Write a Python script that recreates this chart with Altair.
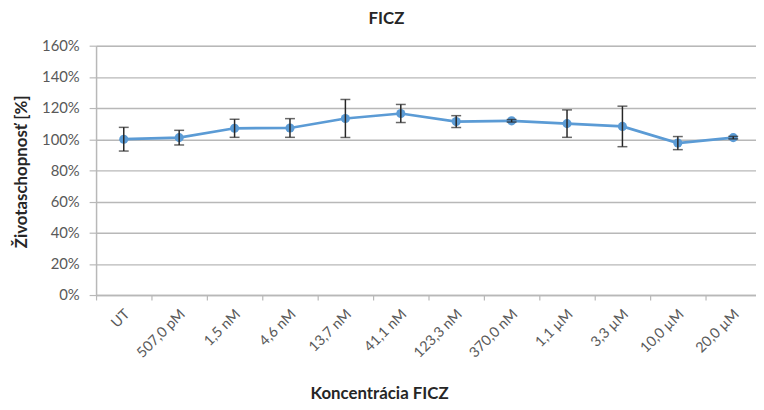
import altair as alt
import pandas as pd

categories = ["UT", "507,0 pM", "1,5 nM", "4,6 nM", "13,7 nM", "41,1 nM",
              "123,3 nM", "370,0 nM", "1,1 µM", "3,3 µM", "10,0 µM", "20,0 µM"]
values = [100.0, 101.0, 107.0, 107.2, 113.3, 116.5, 111.3, 111.8, 110.0, 108.2, 97.5, 101.0]
errors = [7.6, 4.7, 5.8, 6.0, 12.2, 5.8, 3.8, 0.8, 8.8, 13.0, 4.2, 0.8]
y_ticks = [0, 20, 40, 60, 80, 100, 120, 140, 160]

df = pd.DataFrame({"cat": categories, "val": values, "err": errors})

FONT = "Lato"
GRID = "#b8b8b8"
BLUE = "#5b9bd5"

x_enc = alt.X(
    "cat:N", sort=categories,
    scale=alt.Scale(paddingInner=0, paddingOuter=0, range=[0, 672]),
    axis=alt.Axis(
        title="Koncentrácia FICZ", bandPosition=0, labelOffset=-1,
        labelAngle=-45, labelAlign="right", labelBaseline="top",
        labelPadding=7, tickSize=5, tickColor=GRID, domainColor=GRID,
        domainWidth=1.5, tickWidth=1.2, grid=False, labelOverlap=False,
        labelFont=FONT, labelFontSize=14.5, labelColor="#595959",
        titleFont=FONT, titleFontSize=17, titleFontWeight="bold",
        titleColor="#262626", titleX=286, titleY=105,
        titleAlign="center", titleBaseline="alphabetic",
    ),
)

y_scale = alt.Scale(domain=[0, 160], nice=False, zero=True)
y_axis = alt.Axis(
    title="Životaschopnosť [%]", values=y_ticks,
    labelExpr="datum.value + '%'", labelOverlap=False,
    grid=True, gridColor=GRID, gridWidth=1.4,
    tickSize=7, tickColor=GRID, tickWidth=1.2,
    domainColor=GRID, domainWidth=1.5, labelPadding=10,
    labelFont=FONT, labelFontSize=15, labelColor="#595959",
    titleFont=FONT, titleFontSize=17, titleFontWeight="bold",
    titleColor="#262626", titleX=-75, titleY=127, titleAngle=270,
    titleAlign="center", titleBaseline="middle",
)


def yq(field):
    return alt.Y(field, type="quantitative", scale=y_scale, axis=y_axis, title="Životaschopnosť [%]")


base = alt.Chart(df).transform_calculate(
    lo="datum.val - datum.err", hi="datum.val + datum.err"
)

line = base.mark_line(color=BLUE, strokeWidth=2.7).encode(x=x_enc, y=yq("val"))
points = base.mark_point(shape="circle", filled=True, size=85, color=BLUE, opacity=1).encode(
    x=x_enc, y=yq("val")
)
rules = base.mark_rule(color="#262626", strokeWidth=1.5).encode(
    x=x_enc, y=yq("lo"), y2="hi:Q"
)
cap_lo = base.mark_tick(color="#262626", thickness=1.5, size=10).encode(x=x_enc, y=yq("lo"))
cap_hi = base.mark_tick(color="#262626", thickness=1.5, size=10).encode(x=x_enc, y=yq("hi"))

chart = alt.layer(line, points, rules, cap_lo, cap_hi).properties(
    width=667, height=252,
    autosize=alt.AutoSizeParams(type="none"),
    padding={"left": 89, "top": 36, "right": 0, "bottom": 106},
    title=alt.TitleParams(
        "FICZ", font=FONT, fontSize=17, fontWeight="bold", color="#262626",
        anchor="middle", dx=-40, offset=11,
    ),
).configure_view(stroke=None).configure(background="white")

chart.save("out.html", embed_options={"renderer": "svg", "actions": False})
